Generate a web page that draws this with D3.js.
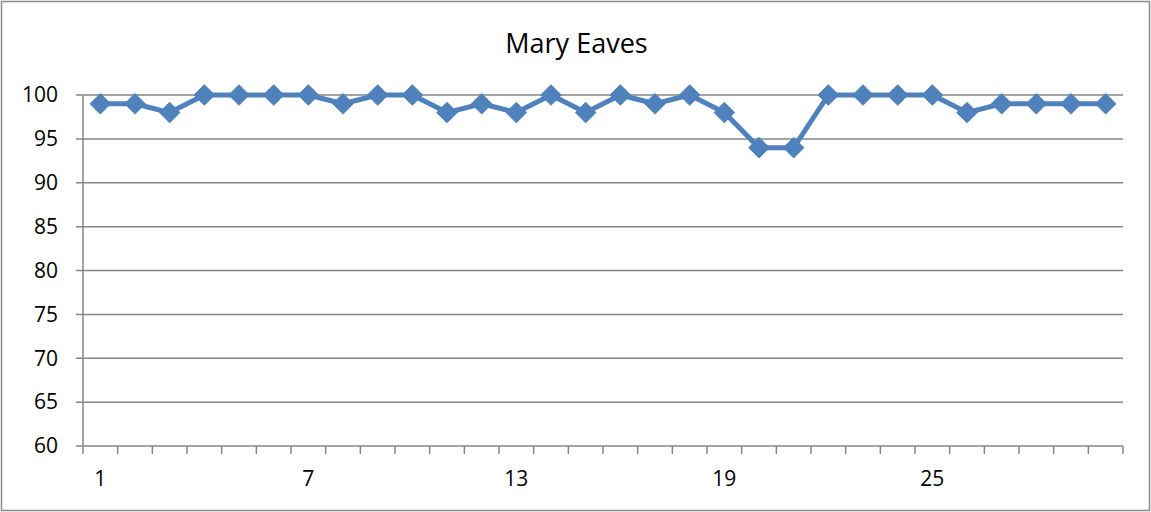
<!DOCTYPE html>
<html>
<head>
<meta charset="utf-8">
<script src="https://cdn.jsdelivr.net/npm/d3@7"></script>
<style>
  body { margin: 0; background: #fff; }
  text { font-family: "Open Sans", "Noto Sans", sans-serif; fill: #000; }
</style>
</head>
<body>
<div id="chart"></div>
<script>
const title = "Mary Eaves";
const days = d3.range(1, 31);
const scores = [99, 99, 98, 100, 100, 100, 100, 99, 100, 100,
                98, 99, 98, 100, 98, 100, 99, 100, 98, 94,
                94, 100, 100, 100, 100, 98, 99, 99, 99, 99];
const yTicks = [60, 65, 70, 75, 80, 85, 90, 95, 100];
const xLabels = [1, 7, 13, 19, 25];

const W = 1151, H = 512;
const margin = {top: 95, right: 28, bottom: 66, left: 83};
const width = W - margin.left - margin.right,
    height = H - margin.top - margin.bottom;

let svg = d3.select("#chart")
    .append("svg")
    .attr("width", W)
    .attr("height", H);

// outer frame
svg.append("rect")
    .attr("x", 1.5).attr("y", 1.5)
    .attr("width", W - 3).attr("height", H - 3)
    .attr("fill", "#fff")
    .attr("stroke", "#8c8c8c")
    .attr("stroke-width", 1.5);

svg.append("text")
    .attr("x", W / 2 + 1)
    .attr("y", 53)
    .attr("text-anchor", "middle")
    .style("font-size", "27px")
    .text(title);

let group = svg.append("g")
    .attr("transform", `translate(${margin.left},${margin.top})`);

let xScale = d3.scaleBand()
    .domain(days)
    .range([0, width]);

let yScale = d3.scaleLinear()
    .domain([60, 100])
    .range([height, 0]);

// gridlines
group.append("g")
    .selectAll("line")
    .data(yTicks)
    .join("line")
    .attr("x1", -7)
    .attr("x2", width)
    .attr("y1", d => yScale(d))
    .attr("y2", d => yScale(d))
    .attr("stroke", "#868686")
    .attr("stroke-width", 1.5);

// y axis line
group.append("line")
    .attr("x1", 0).attr("x2", 0)
    .attr("y1", 0).attr("y2", height)
    .attr("stroke", "#868686")
    .attr("stroke-width", 1.5);

// y labels
group.append("g")
    .selectAll("text")
    .data(yTicks)
    .join("text")
    .attr("x", -25)
    .attr("y", d => yScale(d))
    .attr("dy", "0.35em")
    .attr("text-anchor", "end")
    .style("font-size", "21px")
    .text(d => d);

// x tick marks at category boundaries
const bounds = days.map(d => xScale(d)).concat([width]);
group.append("g")
    .selectAll("line")
    .data(bounds)
    .join("line")
    .attr("x1", d => d).attr("x2", d => d)
    .attr("y1", height).attr("y2", height + 8)
    .attr("stroke", "#868686")
    .attr("stroke-width", 1.5);

// x labels
group.append("g")
    .selectAll("text")
    .data(xLabels)
    .join("text")
    .attr("x", d => xScale(d) + xScale.bandwidth() / 2)
    .attr("y", height + 33)
    .attr("dy", "0.35em")
    .attr("text-anchor", "middle")
    .style("font-size", "21px")
    .text(d => d);

const cx = (d, i) => xScale(days[i]) + xScale.bandwidth() / 2;

let line = d3.line()
    .x(cx)
    .y(d => yScale(d));

group.append("path")
    .datum(scores)
    .attr("fill", "none")
    .attr("stroke", "#4f81bd")
    .attr("stroke-width", 5)
    .attr("stroke-linejoin", "round")
    .attr("d", line);

group.append("g")
    .selectAll("path")
    .data(scores)
    .join("path")
    .attr("transform", (d, i) => `translate(${cx(d, i)},${yScale(d)})`)
    .attr("d", d3.symbol(d3.symbolDiamond2, 270))
    .attr("fill", "#4f81bd")
    .attr("stroke", "#4f81bd")
    .attr("stroke-width", 1);
</script>
</body>
</html>
